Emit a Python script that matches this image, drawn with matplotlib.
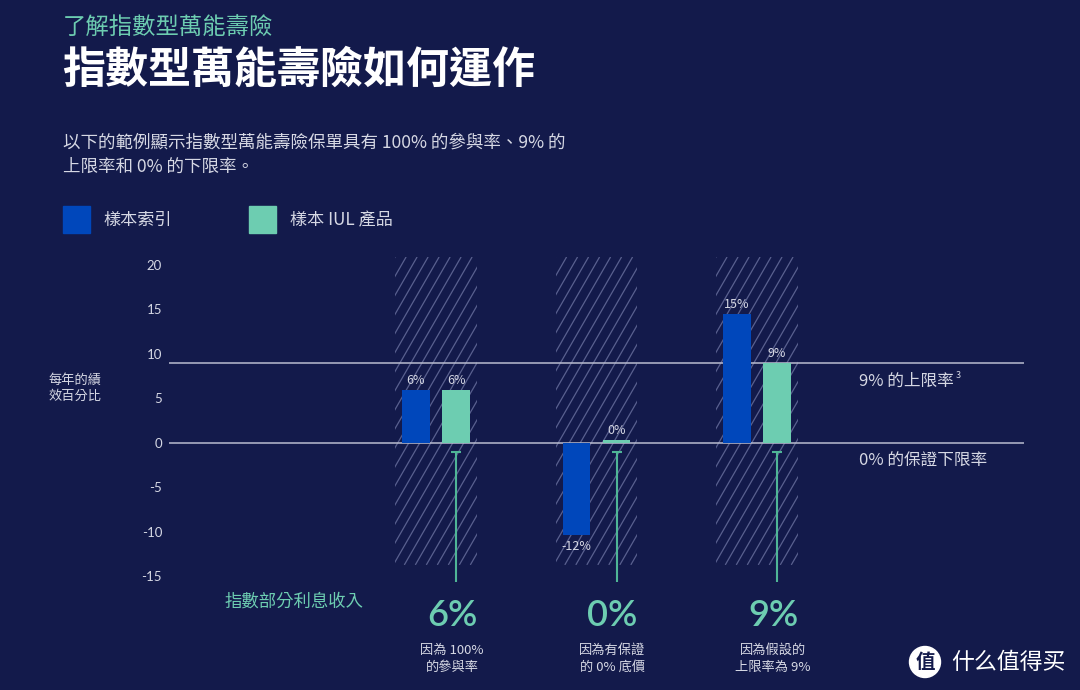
import matplotlib.pyplot as plt
import numpy as np
from matplotlib.collections import LineCollection
from matplotlib.patches import Ellipse

# data
index_vals = [5.9, -10.3, 14.5]
iul_vals = [5.9, 0.3, 9]
index_labels = ['6%', '-12%', '15%']
iul_labels = ['6%', '0%', '9%']
yticks = [20, 15, 10, 5, 0, -5, -10, -15]
cap_rate = 9
floor_rate = 0
credited = ['6%', '0%', '9%']
credited_notes = ['因為 100%\n的參與率', '因為有保證\n的 0% 底價', '因為假設的\n上限率為 9%']

BG = '#131a4b'
BLUE = '#0047bb'
GREEN = '#6dcdb1'
LIGHT = '#d6d8e4'
CJK = ['Noto Sans CJK TC', 'DejaVu Sans']

plt.rcParams['font.family'] = CJK

W, H = 1080, 690
fig = plt.figure(figsize=(W / 100, H / 100), dpi=100, facecolor=BG)


def px(x, y):
    return x / W, 1 - y / H


# header texts
fig.text(*px(63, 28), '了解指數型萬能壽險', color=GREEN, fontsize=16.8, va='center')
fig.text(*px(62, 70), '指數型萬能壽險如何運作', color='white', fontsize=31,
         fontweight='bold', va='center')
fig.text(*px(63, 143), '以下的範例顯示指數型萬能壽險保單具有 100% 的參與率、9% 的',
         color=LIGHT, fontsize=12.6, va='center')
fig.text(*px(63, 167), '上限率和 0% 的下限率。', color=LIGHT, fontsize=12.6, va='center')

# legend
fig.patches.append(plt.Rectangle(px(63, 233), 27 / W, 27 / H, color=BLUE,
                                 transform=fig.transFigure))
fig.text(*px(103, 220), '樣本索引', color=LIGHT, fontsize=12.3, va='center')
fig.patches.append(plt.Rectangle(px(249, 233), 27 / W, 27 / H, color=GREEN,
                                 transform=fig.transFigure))
fig.text(*px(290, 220), '樣本 IUL 產品', color=LIGHT, fontsize=12.3, va='center')

# chart
ax = fig.add_axes([169 / W, 1 - 585 / H, (1024 - 169) / W, 330 / H])
ax.set_facecolor(BG)
ax.set_xlim(-1.664, 3.664)
ax.set_ylim(-15.96, 21.12)
x = np.arange(len(index_vals))
off = 0.125
bw = 0.172

# hatched bands, steep diagonal lines clipped to each band
band_lo, band_hi, band_w = -13.7, 20.9, 0.51
bands = ax.bar(x, band_hi - band_lo, bottom=band_lo, width=band_w, fill=False,
               linewidth=0, zorder=1)
ux = 855 / (3.664 + 1.664)   # px per x unit
uy = 330 / (21.12 + 15.96)   # px per y unit
run = (band_hi - band_lo) * uy / np.tan(np.radians(60)) / ux
step = 11 / ux
for xc, rect in zip(x, bands):
    starts = np.arange(xc - band_w / 2 - run, xc + band_w / 2 + step, step)
    segs = [[(s, band_lo), (s + run, band_hi)] for s in starts]
    lc = LineCollection(segs, colors='#59608f', linewidths=0.9, zorder=1)
    ax.add_collection(lc)
    lc.set_clip_path(rect)

ax.axhline(cap_rate, color='#b9bcd0', lw=1.1, zorder=2)
ax.axhline(floor_rate, color='#b9bcd0', lw=1.1, zorder=2)

ax.bar(x - off, index_vals, width=bw, color=BLUE, zorder=3)
ax.bar(x + off, iul_vals, width=bw, color=GREEN, zorder=3)

for xi, v, lab in zip(x - off, index_vals, index_labels):
    ax.annotate(lab, (xi, v), xytext=(0, 7 if v >= 0 else -8.5), textcoords='offset points',
                ha='center', va='center', color=LIGHT, fontsize=9)
for xi, v, lab in zip(x + off, iul_vals, iul_labels):
    ax.annotate(lab, (xi, v), xytext=(0, 7), textcoords='offset points',
                ha='center', va='center', color=LIGHT, fontsize=9)

# connectors down to credited rates
ax.vlines(x + off, -15.6, -1.0, color='#4fb596', lw=1.5, zorder=3)
ax.plot(x + off, [-1.0] * len(x), marker='_', ms=7, mew=1.5, color='#4fb596',
        ls='none', zorder=3)

ax.set_yticks(yticks)
ax.set_yticklabels([str(t) for t in yticks], family=['Lato', 'DejaVu Sans'])
ax.tick_params(axis='y', length=0, pad=5, labelcolor=LIGHT, labelsize=9.5)
ax.set_xticks([])
for s in ax.spines.values():
    s.set_visible(False)

fig.text(*px(49, 388), '每年的績\n效百分比', color=LIGHT, fontsize=9.5, va='center',
         linespacing=1.3)
fig.text(*px(859, 381), '9% 的上限率', color=LIGHT, fontsize=12, va='center')
fig.text(*px(956, 376), '3', color=LIGHT, fontsize=6.5, va='center')
fig.text(*px(859, 461), '0% 的保證下限率', color=LIGHT, fontsize=12, va='center')

# credited interest
fig.text(*px(225, 602), '指數部分利息收入', color=GREEN, fontsize=12.5, va='center')
for xi, big, note in zip(x + off, credited, credited_notes):
    xf = ax.transData.transform((xi, 0))[0] / W
    fig.text(xf - 4 / W, 1 - 616 / H, big, color=GREEN, fontsize=26, fontweight='semibold',
             family=['Lato', 'DejaVu Sans'], ha='center', va='center')
    fig.text(xf - 4 / W, 1 - 659 / H, note, color=LIGHT, fontsize=9.5, ha='center',
             va='center', linespacing=1.35)

# watermark
fig.patches.append(Ellipse(px(925, 662), 31 / W, 31 / H, color='white',
                           transform=fig.transFigure))
fig.text(*px(925, 662), '值', color=BG, fontsize=14, fontweight='bold',
         ha='center', va='center')
fig.text(*px(951, 662), '什么值得买', color='white', fontsize=16.5, va='center')

fig.savefig('out.png', dpi=100, facecolor=BG)
